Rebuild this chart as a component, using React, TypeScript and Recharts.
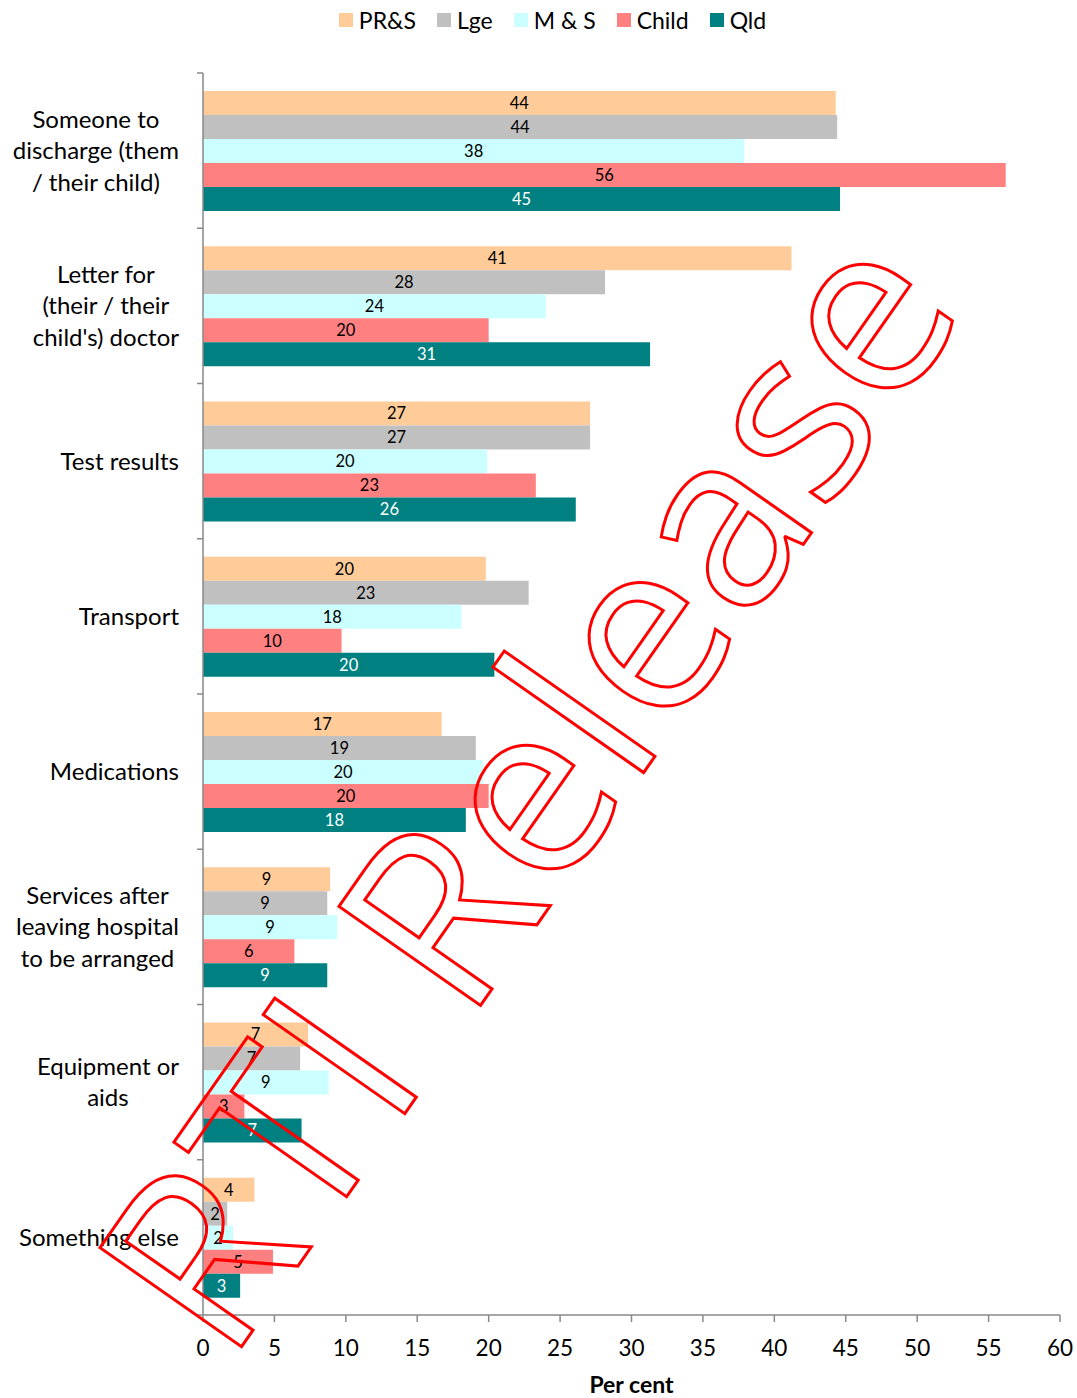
import { Bar, BarChart, LabelList, Legend, XAxis, YAxis } from "recharts";

const categoryLines = [
  ["Someone to", "discharge (them", "/ their child)"],
  ["Letter for", "(their / their", "child's) doctor"],
  ["Test results"],
  ["Transport"],
  ["Medications"],
  ["Services after", "leaving hospital", "to be arranged"],
  ["Equipment or", "aids"],
  ["Something else"],
];
const categories = categoryLines.map((l) => l.join(" "));

const prs = [44.3, 41.2, 27.1, 19.8, 16.7, 8.9, 7.35, 3.6];
const lge = [44.4, 28.15, 27.1, 22.8, 19.1, 8.7, 6.8, 1.7];
const ms = [37.9, 24.0, 19.9, 18.1, 19.6, 9.4, 8.8, 2.1];
const child = [56.2, 20.0, 23.3, 9.7, 20.0, 6.4, 2.9, 4.9];
const qld = [44.6, 31.3, 26.1, 20.4, 18.4, 8.7, 6.9, 2.6];

const xTicks = [0, 5, 10, 15, 20, 25, 30, 35, 40, 45, 50, 55, 60];

const series = [
  { key: "prs", name: "PR&S", color: "#FFCC99", text: "#000" },
  { key: "lge", name: "Lge", color: "#C0C0C0", text: "#000" },
  { key: "ms", name: "M & S", color: "#CCFFFF", text: "#000" },
  { key: "child", name: "Child", color: "#FF8080", text: "#000" },
  { key: "qld", name: "Qld", color: "#008080", text: "#fff" },
];

const data = categories.map((name, i) => ({
  name,
  prs: prs[i],
  lge: lge[i],
  ms: ms[i],
  child: child[i],
  qld: qld[i],
}));

const W = 1077;
const H = 1398;
const FONT = "Lato, 'Open Sans', sans-serif";
const AXIS = "#898989";
const AXIS_X = 203;
const PLOT_TOP = 73;
const PLOT_BOTTOM = 1315;
const BAND = (PLOT_BOTTOM - PLOT_TOP) / categories.length;
const LABEL_RIGHT = 179;
const LINE_H = 31.5;
const LABEL_SIZE = 24;

let ctx: CanvasRenderingContext2D | null = null;
function textWidth(s: string) {
  if (!ctx) ctx = document.createElement("canvas").getContext("2d");
  if (!ctx) return s.length * 11;
  ctx.font = `${LABEL_SIZE}px Lato`;
  return ctx.measureText(s).width;
}

function CategoryTick(props: any) {
  const { y, payload, index } = props;
  const lines = categoryLines[categories.indexOf(payload.value)] || [payload.value];
  const maxW = Math.max(...lines.map(textWidth));
  const cx = LABEL_RIGHT - maxW / 2;
  const start = y - ((lines.length - 1) * LINE_H) / 2;
  const top = y - BAND / 2;
  return (
    <g>
      <line x1={AXIS_X - 6} x2={AXIS_X} y1={top} y2={top} stroke={AXIS} strokeWidth={1.5} />
      {index === categories.length - 1 && (
        <line x1={AXIS_X - 6} x2={AXIS_X} y1={top + BAND} y2={top + BAND} stroke={AXIS} strokeWidth={1.5} />
      )}
      <text textAnchor="middle" fontFamily={FONT} fontSize={LABEL_SIZE} fill="#000">
        {lines.map((l, i) => (
          <tspan key={i} x={cx} y={start + i * LINE_H} dy="0.35em">
            {l}
          </tspan>
        ))}
      </text>
    </g>
  );
}

function LegendRow() {
  return (
    <div
      style={{
        display: "flex",
        justifyContent: "center",
        gap: 21,
        paddingLeft: 28,
        fontFamily: FONT,
        fontSize: 23,
        color: "#000",
      }}
    >
      {series.map((s) => (
        <div key={s.key} style={{ display: "flex", alignItems: "center", gap: 6 }}>
          <span style={{ width: 14, height: 14, background: s.color, display: "inline-block" }} />
          <span>{s.name}</span>
        </div>
      ))}
    </div>
  );
}

function Watermark() {
  return (
    <svg
      width={W}
      height={H}
      style={{ position: "absolute", left: 0, top: 0, pointerEvents: "none" }}
    >
      <text
        transform="translate(228,1366) rotate(-55)"
        fontFamily="'Open Sans', sans-serif"
        fontSize={242}
        fill="none"
        stroke="#FF0000"
        strokeWidth={3}
        textLength={1290}
        lengthAdjust="spacing"
      >
        RTI Release
      </text>
    </svg>
  );
}

export default function App() {
  return (
    <div style={{ position: "absolute", left: 0, top: 0, width: W, height: H, background: "#fff" }}>
      <BarChart
        width={W}
        height={H}
        data={data}
        layout="vertical"
        margin={{ top: PLOT_TOP - 40, right: 17, bottom: 0, left: 0 }}
        barGap={0}
        barSize={24}
      >
        <Legend
          verticalAlign="top"
          content={() => <LegendRow />}
          wrapperStyle={{ top: 6, left: 0, width: W, height: 40 }}
        />
        <XAxis
          type="number"
          domain={[0, 60]}
          ticks={xTicks}
          interval={0}
          height={H - PLOT_BOTTOM}
          stroke={AXIS}
          strokeWidth={1.5}
          tickSize={7}
          tickMargin={18}
          tick={{ fontSize: 22.5, fill: "#000", fontFamily: FONT }}
          label={{
            value: "Per cent",
            position: "insideBottom",
            offset: 5,
            style: { fontFamily: FONT, fontSize: 23, fontWeight: 700, fill: "#000" },
          }}
        />
        <YAxis
          type="category"
          dataKey="name"
          width={AXIS_X}
          stroke={AXIS}
          strokeWidth={1.5}
          tickLine={false}
          interval={0}
          tick={<CategoryTick />}
        />
        {series.map((s) => (
          <Bar key={s.key} dataKey={s.key} name={s.name} fill={s.color} isAnimationActive={false}>
            <LabelList
              dataKey={s.key}
              position="center"
              formatter={(v: any) => Math.round(Number(v))}
              style={{ fontFamily: FONT, fontSize: 16.5, fill: s.text }}
            />
          </Bar>
        ))}
      </BarChart>
      <Watermark />
    </div>
  );
}
